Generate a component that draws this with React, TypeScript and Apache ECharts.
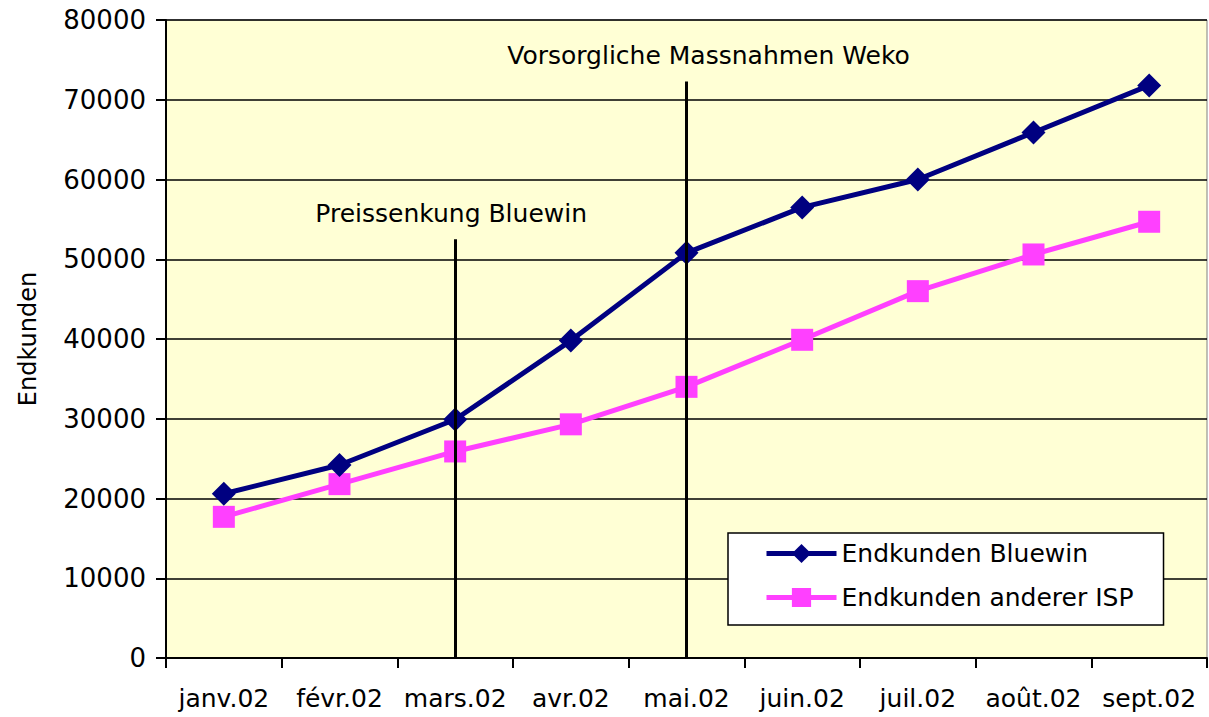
import React, { useEffect, useRef } from "react";
import * as echarts from "echarts";

const categories = ["janv.02", "févr.02", "mars.02", "avr.02", "mai.02", "juin.02", "juil.02", "août.02", "sept.02"];
const bluewin = [20600, 24200, 29900, 39800, 50800, 56500, 60000, 65900, 71800];
const otherIsp = [17700, 21800, 25900, 29300, 34000, 39900, 46000, 50600, 54700];
const yTicks = { min: 0, max: 80000, interval: 10000 };
const events = [
  { cat: "mars.02", top: 52500, label: "Preissenkung Bluewin", offset: [-4, -8] },
  { cat: "mai.02", top: 72300, label: "Vorsorgliche Massnahmen Weko", offset: [22, -8] },
];

const FONT = "DejaVu Sans";
const TXT = { fontFamily: FONT, fontSize: 25, color: "#000" };

export default function App() {
  const ref = useRef<HTMLDivElement>(null);
  useEffect(() => {
    const chart = echarts.init(ref.current!, null, { renderer: "svg" });
    chart.setOption({
      animation: false,
      textStyle: { fontFamily: FONT, color: "#000" },
      grid: {
        left: 166, right: 2, top: 20, bottom: 59,
        show: true, backgroundColor: "#FFFFD5", borderColor: "#808080", borderWidth: 1,
      },
      legend: {
        show: true,
        left: 728, top: 533,
        orient: "vertical",
        backgroundColor: "#fff",
        borderColor: "#000",
        borderWidth: 1.5,
        padding: [8, 30, 15, 36],
        itemGap: 19,
        itemWidth: 70,
        itemHeight: 24,
        textStyle: { ...TXT },
        data: [
          { name: "Endkunden Bluewin", lineStyle: { width: 5 } },
          { name: "Endkunden anderer ISP", lineStyle: { width: 5 } },
        ],
      },
      xAxis: {
        type: "category",
        data: categories,
        boundaryGap: true,
        axisLine: { lineStyle: { color: "#000", width: 2 } },
        axisTick: { show: true, interval: 0, alignWithLabel: false, length: 10, lineStyle: { color: "#000", width: 2 } },
        axisLabel: { ...TXT, interval: 0, margin: 28 },
      },
      yAxis: {
        type: "value",
        min: yTicks.min, max: yTicks.max, interval: yTicks.interval,
        name: "Endkunden",
        nameLocation: "middle",
        nameGap: 126,
        nameRotate: 90,
        nameTextStyle: { ...TXT, fontSize: 24 },
        axisLine: { show: true, lineStyle: { color: "#000", width: 2 } },
        axisTick: { show: true, length: 10, lineStyle: { color: "#000", width: 2 } },
        axisLabel: { ...TXT, fontSize: 26, margin: 20, formatter: (v: number) => String(v) },
        splitLine: { show: true, lineStyle: { color: "#000", width: 1.5 } },
      },
      series: [
        {
          name: "Endkunden Bluewin",
          type: "line",
          data: bluewin,
          color: "#000080",
          symbol: "diamond",
          symbolSize: 24,
          lineStyle: { width: 5, color: "#000080" },
          itemStyle: { color: "#000080" },
          z: 4,
          markLine: {
            silent: true,
            symbol: "none",
            z: 10,
            lineStyle: { color: "#000", width: 3, type: "solid" },
            label: { show: true, position: "start", ...TXT },
            data: events.map((e) => [
              { coord: [e.cat, e.top], label: { formatter: e.label, offset: e.offset } },
              { coord: [e.cat, 0] },
            ]),
          },
        },
        {
          name: "Endkunden anderer ISP",
          type: "line",
          data: otherIsp,
          color: "#FF40FF",
          symbol: "rect",
          symbolSize: 22,
          lineStyle: { width: 5, color: "#FF40FF" },
          itemStyle: { color: "#FF40FF" },
          z: 3,
        },
      ],
    });
    return () => chart.dispose();
  }, []);
  return <div ref={ref} style={{ width: 1209, height: 717, position: "absolute", left: 0, top: 0 }} />;
}
